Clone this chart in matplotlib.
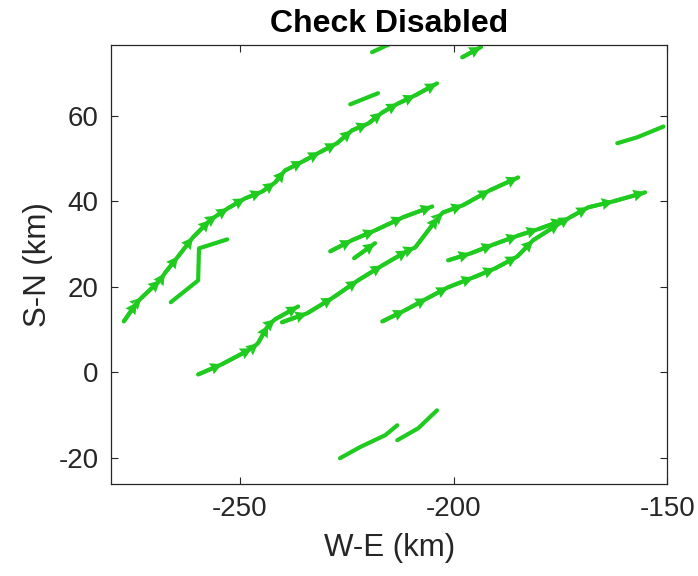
import matplotlib
matplotlib.use("Agg")
import matplotlib.pyplot as plt
import numpy as np

plt.rcParams['font.family'] = ['Liberation Sans', 'DejaVu Sans']
plt.rcParams['axes.unicode_minus'] = False

# storm tracks (km), drawn with arrow heads at each step
track_a_x = [-277.2, -274.1, -273.0, -268.7, -267.6, -264.5, -261.0, -257.0, -255.4, -252.8, -248.8, -244.8,
             -241.8, -239.5, -235.2, -231.3, -227.3, -223.8, -220.0, -216.7, -213.0, -209.0, -203.9]
track_a_y = [11.9, 16.4, 17.5, 21.5, 23.2, 27.1, 31.6, 35.6, 36.7, 38.4, 40.7, 42.3,
             44.4, 47.2, 49.4, 51.5, 53.6, 56.6, 58.2, 60.8, 62.9, 64.8, 67.6]
track_b_x = [-259.8, -254.2, -247.2, -245.8, -243.4, -241.8, -236.4]
track_b_y = [-0.5, 1.9, 5.6, 6.8, 11.0, 12.4, 15.4]
track_c_x = [-240.2, -234.3, -228.2, -222.4, -216.7, -210.7, -209.0, -203.6, -202.5, -197.8, -191.5, -184.9]
track_c_y = [11.7, 13.8, 17.5, 21.5, 25.0, 28.5, 29.2, 36.3, 37.4, 39.1, 42.6, 45.6]
track_d_x = [-228.9, -223.8, -218.4, -211.8, -205.0]
track_d_y = [28.3, 30.9, 33.2, 36.3, 38.8]
track_e_x = [-216.7, -211.4, -206.2, -201.3, -195.4, -190.3, -185.1, -181.4, -175.1, -172.7, -168.5, -162.6, -155.2]
track_e_y = [11.9, 14.5, 17.3, 19.9, 22.2, 24.3, 27.1, 30.9, 34.9, 36.3, 38.6, 40.0, 42.1]
track_f_x = [-201.3, -196.1, -190.7, -184.9, -180.2, -174.4]
track_f_y = [26.2, 27.8, 29.9, 32.0, 33.5, 35.6]
track_s_x = [-223.3, -218.4]
track_s_y = [26.7, 30.2]
track_t_x = [-198.0, -193.6]
track_t_y = [73.7, 76.1]

# tracks without arrow heads
line_z_x = [-266.2, -259.8, -259.6, -253.0]
line_z_y = [16.4, 21.5, 29.0, 31.1]
line_g_x = [-161.7, -157.0, -150.9]
line_g_y = [53.6, 55.0, 57.5]
line_n_x = [-224.2, -217.7]
line_n_y = [62.7, 65.3]
line_u_x = [-219.1, -215.2]
line_u_y = [74.9, 76.7]
line_h_x = [-226.6, -221.9, -216.0, -213.2]
line_h_y = [-20.1, -17.5, -14.7, -12.4]
line_i_x = [-213.2, -208.3, -203.9]
line_i_y = [-15.9, -13.1, -8.9]

arrow_tracks = [(track_a_x, track_a_y), (track_b_x, track_b_y), (track_c_x, track_c_y),
                (track_d_x, track_d_y), (track_e_x, track_e_y), (track_f_x, track_f_y),
                (track_s_x, track_s_y), (track_t_x, track_t_y)]
plain_tracks = [(line_z_x, line_z_y), (line_g_x, line_g_y), (line_n_x, line_n_y),
                (line_u_x, line_u_y), (line_h_x, line_h_y), (line_i_x, line_i_y)]

green = '#1ecb1e'

fig = plt.figure(figsize=(6.98, 5.76), dpi=100)
ax = fig.add_axes([0.159, 0.160, 0.797, 0.762])

for tx, ty in plain_tracks + arrow_tracks:
    ax.plot(tx, ty, color=green, lw=3.0, solid_capstyle='round', solid_joinstyle='round')

for tx, ty in arrow_tracks:
    tx = np.array(tx)
    ty = np.array(ty)
    ax.quiver(tx[:-1], ty[:-1], np.diff(tx), np.diff(ty), angles='xy', scale_units='xy', scale=1,
              color=green, width=0.007, headwidth=3.1, headlength=3.0, headaxislength=2.8,
              minshaft=0.5, zorder=3)

ax.set_xlim(-280.2, -150)
ax.set_ylim(-26.1, 76.6)
ax.set_xticks([-250, -200, -150])
ax.set_yticks([-20, 0, 20, 40, 60])
ax.tick_params(direction='in', top=True, right=True, labelsize=20, colors='#262626', length=5, width=0.8)
ax.tick_params(axis='x', pad=9)
ax.tick_params(axis='y', pad=9)
for s in ax.spines.values():
    s.set_color('#262626')
    s.set_linewidth(0.9)

ax.set_xlabel('W-E (km)', fontsize=22.5, color='#262626', labelpad=8)
ax.set_ylabel('S-N (km)', fontsize=22.5, color='#262626', labelpad=4)
ax.set_title('Check Disabled', fontsize=23, fontweight='bold', pad=9)

fig.savefig('out.png', dpi=100)
